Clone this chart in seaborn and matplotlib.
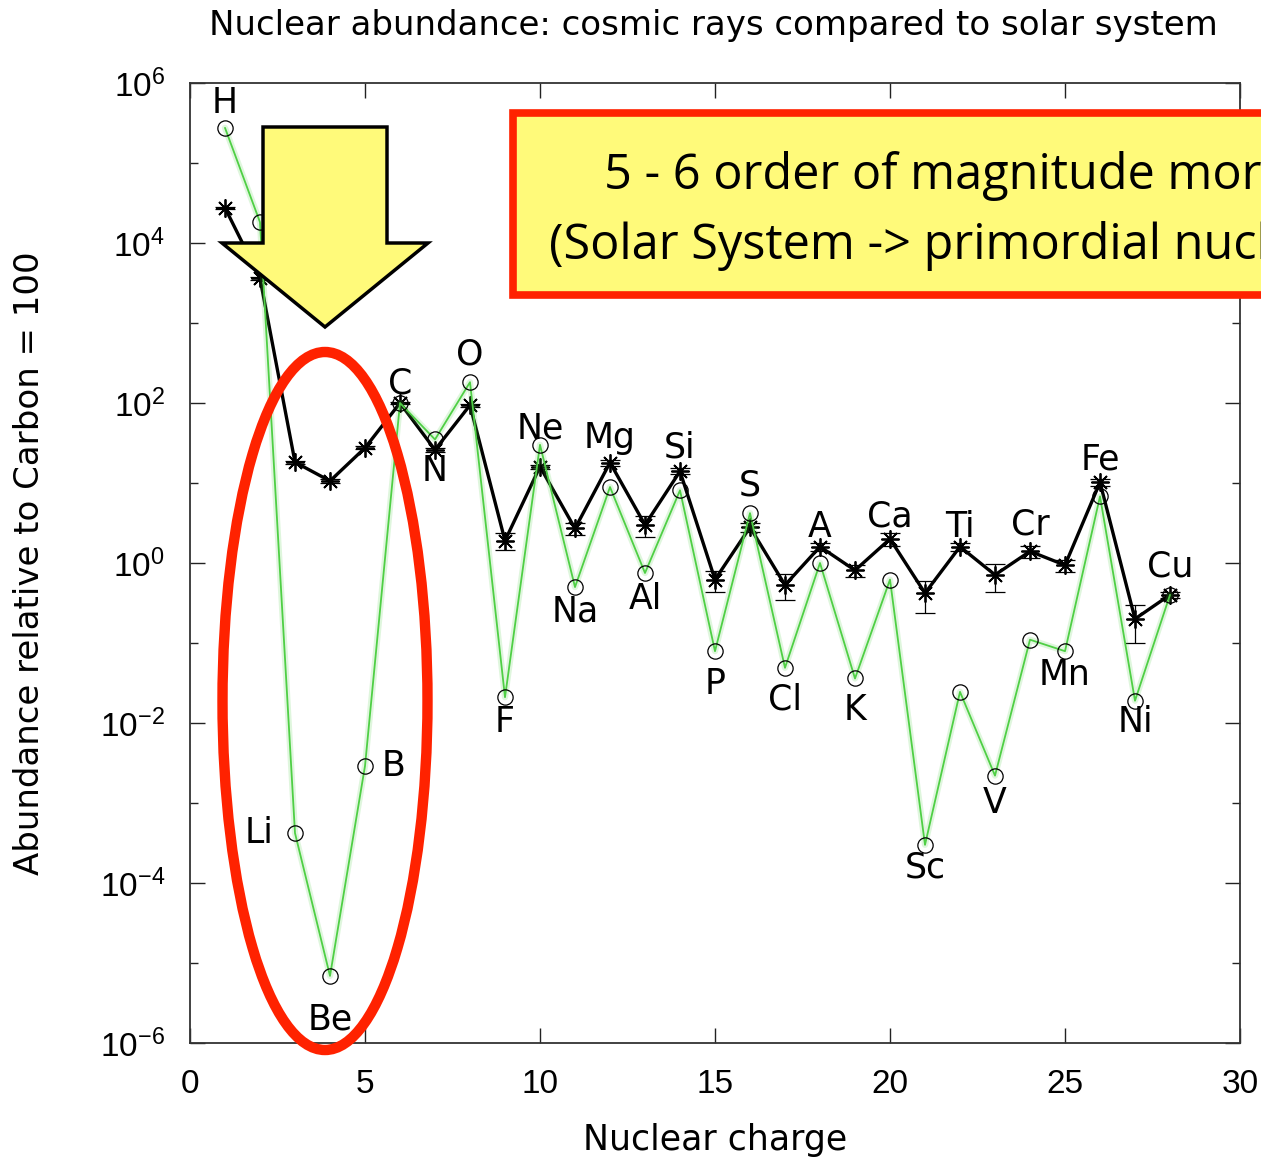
import numpy as np
import pandas as pd
import seaborn as sns
import matplotlib.pyplot as plt
from matplotlib.patches import Polygon, Ellipse, Rectangle

# ---- data -------------------------------------------------------------
elements = ["H", "He", "Li", "Be", "B", "C", "N", "O", "F", "Ne", "Na", "Mg",
            "Al", "Si", "P", "S", "Cl", "A", "K", "Ca", "Sc", "Ti", "V", "Cr",
            "Mn", "Fe", "Ni", "Cu"]
charge = list(range(1, 29))

# solar-system abundance, relative to C = 100
solar = [2.75e5, 1.82e4, 4.2e-4, 6.9e-6, 2.9e-3, 100, 35, 182, 0.021, 30,
         0.50, 8.9, 0.75, 8.1, 0.079, 4.2, 0.049, 1.0, 0.036, 0.62,
         3.0e-4, 0.0245, 2.2e-3, 0.11, 0.079, 6.8, 0.019, 0.40]

# galactic cosmic-ray abundance, relative to C = 100
cosmic = [2.75e4, 3630, 18.2, 10.6, 27.5, 100, 26, 94, 1.9, 16,
          2.7, 18, 3.0, 14, 0.62, 2.8, 0.53, 1.6, 0.81, 2.0,
          0.42, 1.6, 0.71, 1.4, 0.94, 10.2, 0.20, 0.40]
cosmic_err = [1000, 150, 0.8, 0.5, 1.2, 4, 1.5, 4, 0.45, 1.0,
              0.45, 1.5, 0.9, 1.2, 0.18, 0.35, 0.19, 0.2, 0.14, 0.35,
              0.18, 0.2, 0.27, 0.25, 0.16, 1.0, 0.10, 0.03]

# label placement (pixel offsets from the solar-system point); None = no label
label_offsets = [(0, 25), None, (-36, 0), (0, -44), (29, 0), (0, 20), (0, -32),
                 (0, 28), (0, -25), (0, 16), (0, -24), (0, 49), (0, -26),
                 (0, 43), (0, -33), (0, 28), (0, -32), (0, 36), (0, -32),
                 (0, 63), (0, -23), (0, 165), (0, -27), (0, 115), (0, -24),
                 (0, 37), (0, -21), (0, 28)]

title = "Nuclear abundance: cosmic rays compared to solar system"
note_lines = ["5 - 6 order of magnitude more", "(Solar System -> primordial nucleosynthesis)"]

df = pd.DataFrame({"Z": charge, "solar": solar, "cosmic": cosmic, "err": cosmic_err})

# ---- style ------------------------------------------------------------
sns.set_theme(style="ticks")
plt.rcParams["font.family"] = ["DejaVu Sans"]
plt.rcParams["mathtext.fontset"] = "custom"
plt.rcParams["mathtext.rm"] = "Liberation Sans"
plt.rcParams["mathtext.it"] = "Liberation Sans"
for key in ("text.color", "axes.labelcolor", "xtick.color", "ytick.color"):
    plt.rcParams[key] = "black"

W, H = 1261, 1162
fig = plt.figure(figsize=(W / 100, H / 100), dpi=100)
fig.patch.set_facecolor("white")
ax = fig.add_axes([190 / W, 1 - 1043 / H, 1050 / W, 960 / H])
ax.set_facecolor("white")

def fx(x):
    return x / W

def fy(y):
    return 1 - y / H

green = "#4fcf45"

# cosmic rays: error bars + black line with asterisks
ax.errorbar(df["Z"], df["cosmic"], yerr=df["err"], fmt="none", ecolor="black",
            elinewidth=0.9, capsize=7, capthick=0.9, zorder=2)
sns.lineplot(data=df, x="Z", y="cosmic", ax=ax, color="black", lw=2.4,
             marker=(8, 2, 0), markersize=13, markeredgewidth=1.3,
             markeredgecolor="black", zorder=3)

# solar system: halo + thin green line with open circles
ax.plot(df["Z"], df["solar"], color=green, lw=4.5, alpha=0.18, zorder=4,
        solid_capstyle="round")
sns.lineplot(data=df, x="Z", y="solar", ax=ax, color=green, lw=1.3,
             marker="o", markersize=11, markerfacecolor="none",
             markeredgecolor="black", markeredgewidth=0.9, zorder=5)

# element labels
for z, v, name, off in zip(charge, solar, elements, label_offsets):
    if off is None:
        continue
    ax.annotate(name, xy=(z, v), xytext=off, textcoords="offset pixels",
                ha="center", va="center", fontsize=25, color="black", zorder=6)

# axes
ax.set_yscale("log")
ax.set_xlim(0, 30)
ax.set_ylim(1e-6, 1e6)
ax.set_xticks(range(0, 31, 5))
ax.set_yticks([10.0 ** k for k in range(-6, 7, 2)])
ax.set_yticks([10.0 ** k for k in range(-5, 6, 2)], minor=True)
ax.yaxis.set_minor_formatter(plt.NullFormatter())
ax.tick_params(axis="both", which="major", direction="in", length=11, width=1.0,
               top=True, right=True, labelsize=24, color="#222222",
               labelfontfamily="Liberation Sans")
ax.tick_params(axis="x", which="major", pad=19)
ax.tick_params(axis="y", which="major", pad=18)
ax.tick_params(axis="y", which="minor", direction="in", length=6, width=1.0,
               left=True, right=True, color="#222222")
ax.tick_params(axis="x", which="minor", bottom=False, top=False)
for s in ax.spines.values():
    s.set_color("#333333")
    s.set_linewidth(1.3)
ax.set_xlabel("Nuclear charge", fontsize=25)
ax.set_ylabel("Abundance relative to Carbon = 100", fontsize=24.5)
ax.xaxis.set_label_coords(0.5, (1043 - 1140) / 960.0)
ax.yaxis.set_label_coords((30 - 190) / 1050.0, 0.5)
ax.xaxis.label.set_va("center")
ax.yaxis.label.set_va("center")
ax.grid(False)
fig.text(fx(713), fy(25), title, ha="center", va="center", fontsize=24.5)

# highlight: downward block arrow
arrow_px = [(263, 127), (387, 127), (387, 243), (428, 243), (325, 327),
            (222, 243), (263, 243)]
fig.patches.append(Polygon([(fx(x), fy(y)) for x, y in arrow_px], closed=True,
                           transform=fig.transFigure, facecolor="#fffa7a",
                           edgecolor="black", linewidth=2.5, zorder=10))

# highlight: red ellipse around Li, Be, B
fig.patches.append(Ellipse((fx(325), fy(701)), 205 / W, 698 / H,
                           transform=fig.transFigure, facecolor="none",
                           edgecolor="#ff2200", linewidth=7.5, zorder=10))

# note box, running off the right edge of the figure
fig.patches.append(Rectangle((fx(513), fy(295)), 900 / W, 182 / H,
                             transform=fig.transFigure, facecolor="#fffa7a",
                             edgecolor="#ff2200", linewidth=5.5, zorder=10))
fig.text(fx(604), fy(176), note_lines[0], ha="left", va="center",
         fontsize=35, family=["Open Sans", "DejaVu Sans"], zorder=11)
fig.text(fx(549), fy(246), note_lines[1], ha="left", va="center",
         fontsize=35, family=["Open Sans", "DejaVu Sans"], zorder=11)

fig.savefig("out.png", dpi=100)
